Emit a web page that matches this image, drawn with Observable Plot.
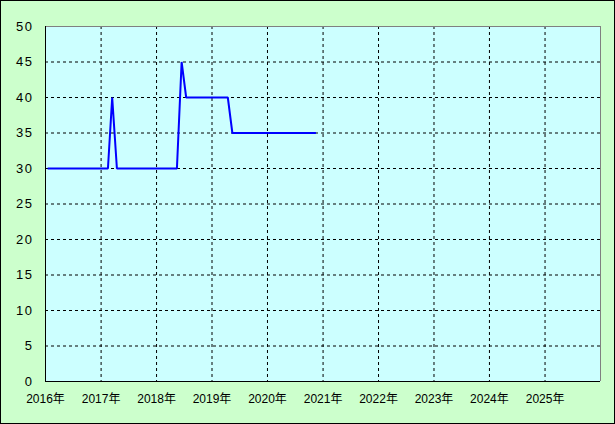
<!DOCTYPE html>
<html>
<head>
<meta charset="utf-8">
<script src="https://cdn.jsdelivr.net/npm/d3@7"></script>
<script src="https://cdn.jsdelivr.net/npm/@observablehq/plot@0.6"></script>
<style>
  html, body { margin: 0; padding: 0; background: #ccffcc; }
  #chart svg { display: block; outline: 1px solid #000; outline-offset: -1px; }
  #chart svg g[aria-label="y-axis tick label"] text { letter-spacing: 1.5px; }
</style>
</head>
<body>
<div id="chart"></div>
<script>
// Monthly values (plotted at mid-month)
const months = [
  "2016-01","2016-02","2016-03","2016-04","2016-05","2016-06","2016-07","2016-08","2016-09","2016-10","2016-11","2016-12",
  "2017-01","2017-02","2017-03","2017-04","2017-05","2017-06","2017-07","2017-08","2017-09","2017-10","2017-11","2017-12",
  "2018-01","2018-02","2018-03","2018-04","2018-05","2018-06","2018-07","2018-08","2018-09","2018-10","2018-11","2018-12",
  "2019-01","2019-02","2019-03","2019-04","2019-05","2019-06","2019-07","2019-08","2019-09","2019-10","2019-11","2019-12",
  "2020-01","2020-02","2020-03","2020-04","2020-05","2020-06","2020-07","2020-08","2020-09","2020-10","2020-11"
];
const values = [
  30,30,30,30,30,30,30,30,30,30,30,30,
  30,30,40,30,30,30,30,30,30,30,30,30,
  30,30,30,30,30,45,40,40,40,40,40,40,
  40,40,40,40,35,35,35,35,35,35,35,35,
  35,35,35,35,35,35,35,35,35,35,35
];
const yearTicks = [2016,2017,2018,2019,2020,2021,2022,2023,2024,2025];
const yTicks = [0,5,10,15,20,25,30,35,40,45,50];

const data = months.map((m, i) => ({date: new Date(m + "-15T00:00:00Z"), value: values[i]}));
const yearDate = y => new Date(Date.UTC(y, 0, 1));
const xStart = yearDate(2016), xEnd = yearDate(2026);

const chart = Plot.plot({
  width: 615,
  height: 424,
  marginLeft: 45,
  marginRight: 15,
  marginTop: 26,
  marginBottom: 43,
  style: {background: "#ccffcc", fontFamily: "'Liberation Sans', 'Noto Sans CJK JP', sans-serif", fontSize: "12px", color: "#000"},
  x: {type: "utc", domain: [xStart, xEnd]},
  y: {domain: [0, 50]},
  marks: [
    Plot.frame({fill: "#ccffff", stroke: null}),
    Plot.ruleX(yearTicks.slice(1).map(yearDate), {stroke: "#000", strokeDasharray: "3,3", strokeWidth: 1}),
    Plot.ruleY(yTicks.slice(1, -1), {stroke: "#000", strokeDasharray: "3,3", strokeWidth: 1}),
    Plot.ruleY([50], {stroke: "#808080", strokeWidth: 1}),
    Plot.ruleX([xEnd], {stroke: "#808080", strokeWidth: 1}),
    Plot.ruleX([xStart], {stroke: "#000", strokeWidth: 1}),
    Plot.ruleY([0], {stroke: "#000", strokeWidth: 1}),
    Plot.line(data, {x: "date", y: "value", stroke: "#0000ff", strokeWidth: 2, strokeLinejoin: "miter", strokeLinecap: "butt"}),
    Plot.axisX(yearTicks.map(yearDate), {tickSize: 0, tickPadding: 13, tickFormat: d => d.getUTCFullYear() + "年", fill: "#000", fontSize: 12, label: null}),
    Plot.axisY(yTicks, {tickSize: 0, tickPadding: 12, fill: "#000", fontSize: 13, label: null})
  ]
});
document.getElementById("chart").appendChild(chart);
</script>
</body>
</html>
